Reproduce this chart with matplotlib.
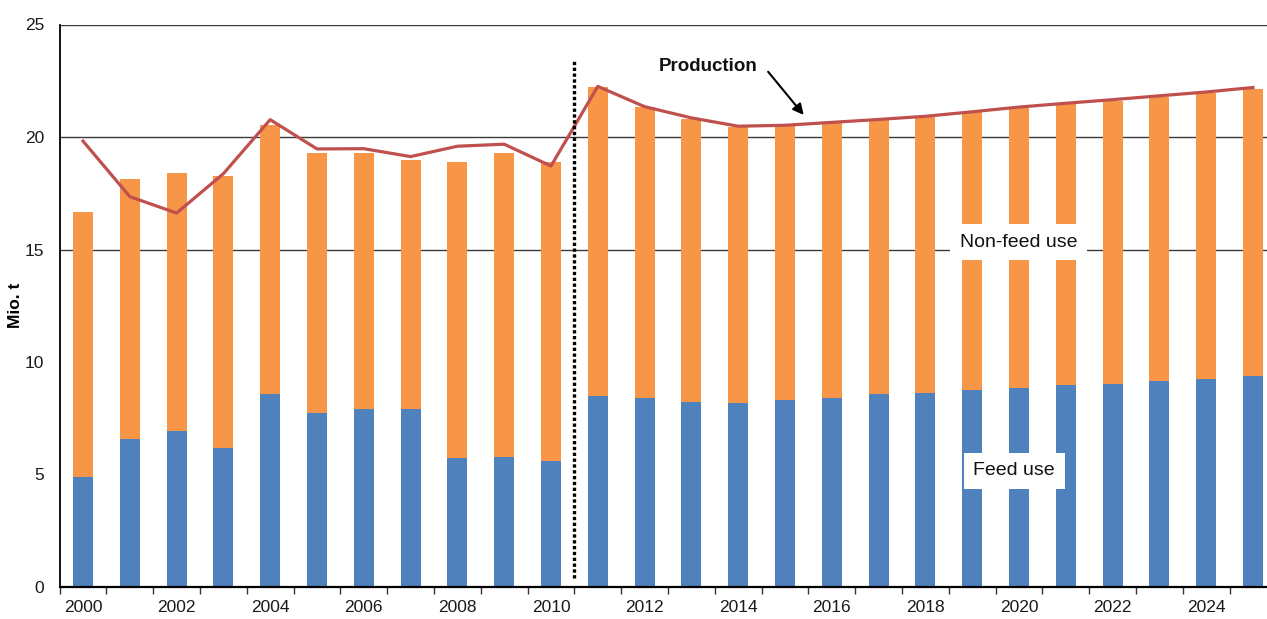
import matplotlib
matplotlib.use("Agg")
import matplotlib.pyplot as plt
import numpy as np
from matplotlib.ticker import FixedLocator

plt.rcParams["font.family"] = ["Liberation Sans", "DejaVu Sans"]

years = list(range(2000, 2026))
feed_use = [4.90, 6.60, 6.95, 6.20, 8.60, 7.75, 7.90, 7.90, 5.75, 5.80, 5.60,
            8.48, 8.42, 8.22, 8.17, 8.30, 8.42, 8.57, 8.63, 8.74, 8.86, 8.97,
            9.04, 9.14, 9.26, 9.38]
non_feed_use = [11.75, 11.54, 11.47, 12.05, 11.95, 11.55, 11.40, 11.07, 13.15,
                13.50, 13.30, 13.76, 12.90, 12.58, 12.28, 12.20, 12.20, 12.18,
                12.25, 12.36, 12.44, 12.50, 12.58, 12.65, 12.69, 12.76]
production = [19.82, 17.35, 16.62, 18.37, 20.77, 19.47, 19.48, 19.13, 19.59,
              19.68, 18.71, 22.25, 21.35, 20.85, 20.48, 20.52, 20.65, 20.78,
              20.92, 21.12, 21.33, 21.50, 21.66, 21.83, 22.00, 22.20]
y_ticks = [0, 5, 10, 15, 20, 25]
grid_levels = [15, 20, 25]
last_observed_year = 2010

BLUE = "#4F81BD"
ORANGE = "#F79646"
RED = "#C0504D"

fig = plt.figure(figsize=(12.67, 6.19), dpi=100)
ax = fig.add_axes([59.6 / 1267, 32 / 619, (1267 - 59.6) / 1267, 562.5 / 619])

x = np.arange(len(years))
ax.bar(x, feed_use, width=0.43, color=BLUE, zorder=2)
ax.bar(x, non_feed_use, width=0.43, bottom=feed_use, color=ORANGE, zorder=2)
ax.plot(x, production, color=RED, lw=2.3, zorder=3, solid_joinstyle="round")

for lvl in grid_levels:
    ax.axhline(lvl, color="#3a3a3a", lw=1.0, zorder=1)

# separator between observed and projected years
sep = years.index(last_observed_year) + 0.5
ax.axvline(sep, ymin=0.016, ymax=0.938, color="black", lw=2.4,
           linestyle=(0, (1, 0.75)), dash_capstyle="butt", zorder=4)

ax.set_xlim(-0.5, 25.3)
ax.set_ylim(0, 25)

for side in ("top", "right"):
    ax.spines[side].set_visible(False)
ax.spines["left"].set_color("black")
ax.spines["left"].set_linewidth(1.3)
ax.spines["bottom"].set_color("black")
ax.spines["bottom"].set_linewidth(1.6)
ax.spines["bottom"].set_zorder(5)

ax.set_yticks(y_ticks)
ax.set_yticklabels([str(v) for v in y_ticks])
ax.tick_params(axis="y", length=0, pad=11, labelsize=12.5, labelcolor="#1a1a1a")

label_idx = [i for i, yr in enumerate(years) if yr % 2 == 0]
ax.set_xticks(label_idx)
ax.set_xticklabels([str(years[i]) for i in label_idx])
ax.tick_params(axis="x", which="major", length=0, pad=9, labelsize=12.5,
               labelcolor="#1a1a1a")
ax.xaxis.set_minor_locator(FixedLocator(np.arange(-0.5, len(years), 1.0)))
ax.tick_params(axis="x", which="minor", length=5, width=1.0, color="#333333",
               direction="out")

ax.set_ylabel("Mio. t", fontsize=12.5, fontweight="bold", labelpad=1)

ax.text(13.35, 23.15, "Production", ha="center", va="center", fontsize=13.5,
        fontweight="bold", color="#111111", zorder=6)
ax.annotate("", xy=(15.4, 20.98), xytext=(14.64, 22.9),
            arrowprops=dict(arrowstyle="-|>", color="black", lw=1.5,
                            mutation_scale=16, shrinkA=0, shrinkB=0),
            zorder=6)

ax.text(20.0, 15.33, "Non-feed use", ha="center", va="center", fontsize=14,
        color="#111111", zorder=6,
        bbox=dict(boxstyle="square,pad=0.5", facecolor="white",
                  edgecolor="none"))
ax.text(19.9, 5.16, "Feed use", ha="center", va="center", fontsize=14,
        color="#111111", zorder=6,
        bbox=dict(boxstyle="square,pad=0.5", facecolor="white",
                  edgecolor="none"))

fig.savefig("out.png", dpi=100)
